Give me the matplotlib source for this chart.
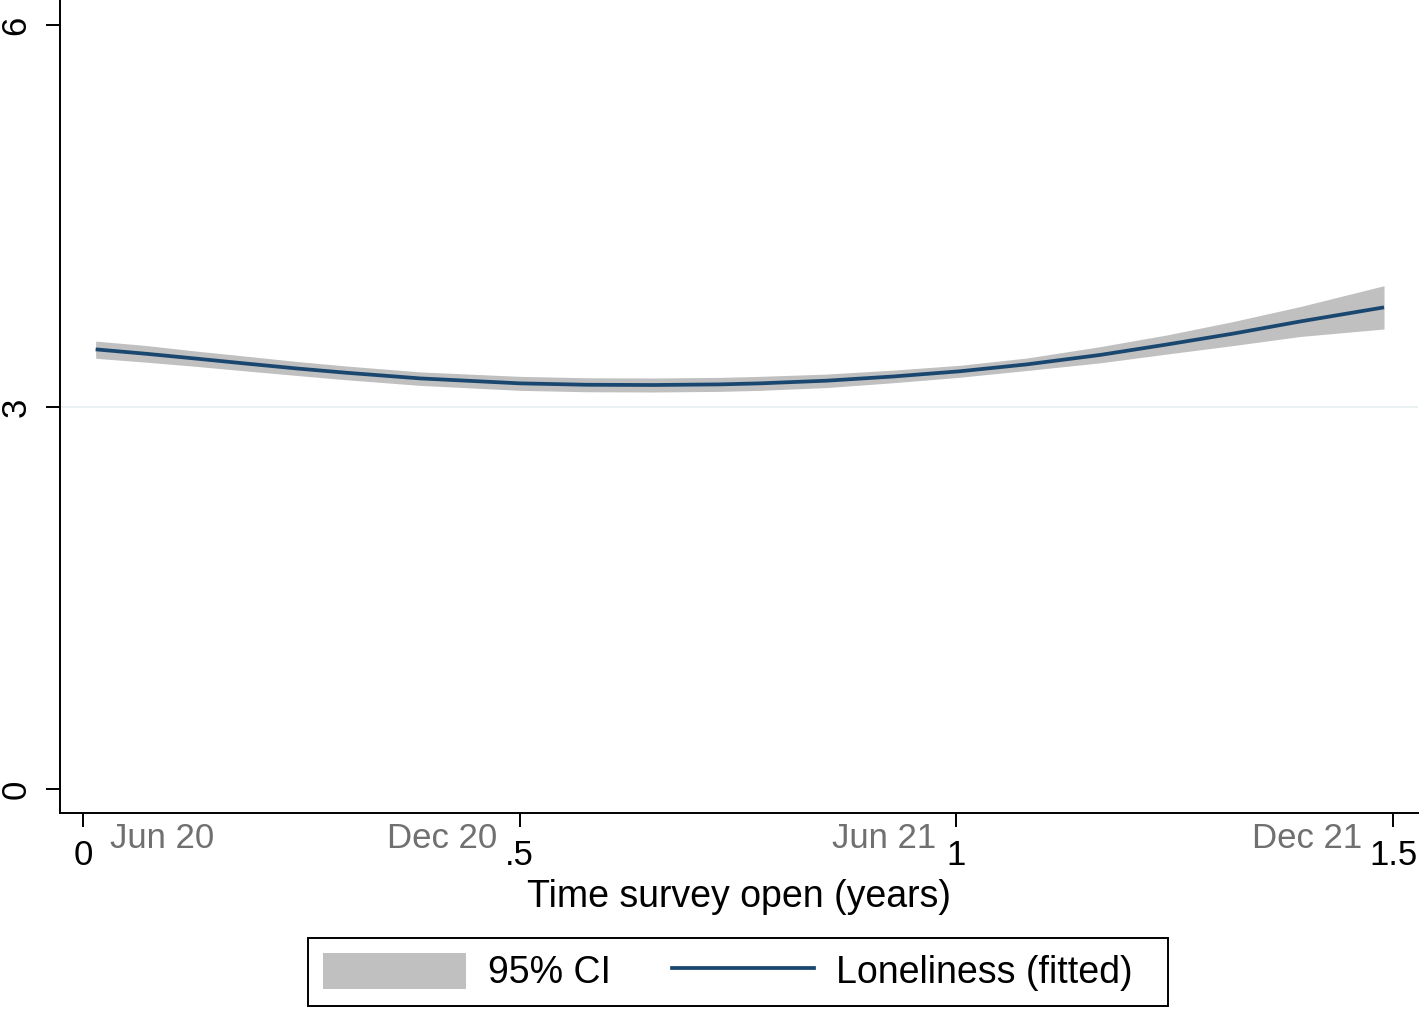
import matplotlib
matplotlib.use("Agg")
import matplotlib.pyplot as plt
import matplotlib.transforms as mtransforms
from matplotlib.patches import Patch, Rectangle
from matplotlib.lines import Line2D

plt.rcParams['font.family'] = ['Liberation Sans', 'DejaVu Sans']

# Data
time_years = [0.0145, 0.0729, 0.1302, 0.1874, 0.2447, 0.3020, 0.3859,
              0.5004, 0.5768, 0.6527, 0.7294, 0.7752, 0.8516, 0.9279,
              1.0042, 1.0806, 1.1645, 1.2409, 1.3172, 1.3936, 1.4897]
fitted = [3.453, 3.418, 3.380, 3.341, 3.303, 3.269, 3.225,
          3.186, 3.175, 3.173, 3.178, 3.186, 3.207, 3.240,
          3.281, 3.335, 3.409, 3.491, 3.577, 3.672, 3.783]
ci_upper = [3.518, 3.483, 3.439, 3.399, 3.358, 3.322, 3.276,
            3.241, 3.230, 3.228, 3.233, 3.241, 3.259, 3.290,
            3.328, 3.385, 3.474, 3.566, 3.672, 3.789, 3.953]
ci_lower = [3.383, 3.352, 3.319, 3.283, 3.248, 3.214, 3.170,
            3.131, 3.120, 3.118, 3.123, 3.131, 3.153, 3.191,
            3.234, 3.287, 3.347, 3.416, 3.483, 3.554, 3.613]

x_ticks = [0, 0.5, 1, 1.5]
x_tick_labels = ['0', '.5', '1', '1.5']
y_ticks = [0, 3, 6]
y_tick_labels = ['0', '3', '6']
date_labels = ['Jun 20', 'Dec 20', 'Jun 21', 'Dec 21']
date_positions = [0.091, 0.4117, 0.917, 1.402]
ref_line = 3

W, H = 1420, 1010
fig = plt.figure(figsize=(W / 100, H / 100), dpi=100)
ax = fig.add_axes([60 / W, 1 - 813 / H, (1418 - 60) / W, 813 / H])

ax.axhline(ref_line, color='#EAF2F3', lw=1.5, zorder=1)
ax.fill_between(time_years, ci_lower, ci_upper, color='#C0C0C0', lw=0, zorder=2)
ax.plot(time_years, fitted, color='#1A476F', lw=2.7, zorder=3,
        solid_capstyle='butt', solid_joinstyle='round')

ax.set_xlim(-0.0263, 1.5286)
ax.set_ylim(-0.1885, 6.197)

for s in ['top', 'right']:
    ax.spines[s].set_visible(False)
for s in ['left', 'bottom']:
    ax.spines[s].set_linewidth(1.4)

ax.set_xticks(x_ticks)
ax.set_xticklabels(x_tick_labels)
ax.set_yticks(y_ticks)
ax.set_yticklabels(y_tick_labels, rotation=90, va='center')
ax.tick_params(axis='both', direction='out', length=10, width=1.4,
               labelsize=25)
ax.tick_params(axis='x', pad=9)
ax.tick_params(axis='y', pad=10)

ax.set_xlabel('Time survey open (years)', fontsize=27, labelpad=5)

trans = mtransforms.blended_transform_factory(ax.transData, fig.transFigure)
for lab, xp in zip(date_labels, date_positions):
    ax.text(xp, 1 - 848 / H, lab, transform=trans, ha='center',
            va='baseline', fontsize=25, color='#707070', clip_on=False)

handles = [Patch(facecolor='#C0C0C0', edgecolor='none'),
           Line2D([], [], color='#1A476F', lw=2.7)]
leg = fig.legend(handles, ['95% CI', 'Loneliness (fitted)'], loc='center',
                 bbox_to_anchor=(728 / W, 1 - 972 / H), ncol=2, fontsize=27,
                 frameon=False,
                 handlelength=3.8, handleheight=1.1, handletextpad=0.59,
                 columnspacing=1.63, borderpad=0.4)
fig.add_artist(Rectangle((308 / W, 1 - 1006 / H), 860 / W, 68 / H,
                         transform=fig.transFigure, fill=False,
                         edgecolor='black', lw=1.4))

fig.savefig('out.png', dpi=100, facecolor='white')
